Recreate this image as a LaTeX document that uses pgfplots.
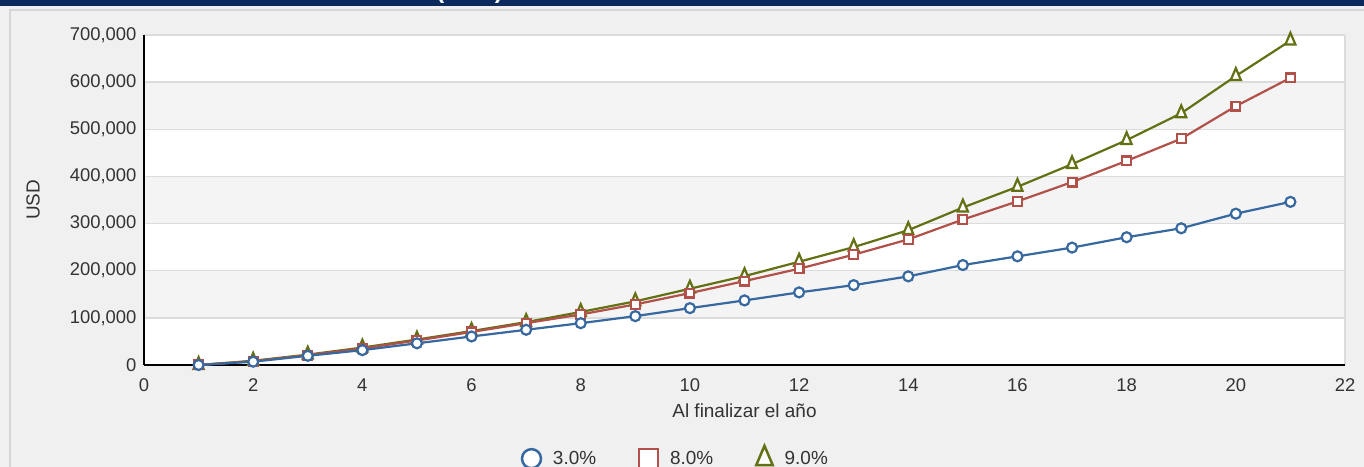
\documentclass[border=0pt]{standalone}
\usepackage{pgfplots}
\pgfplotsset{compat=1.18}
\usepackage{fontspec}
\setmainfont{Liberation Sans}
\definecolor{pagebg}{RGB}{240,240,240}
\definecolor{navy}{RGB}{10,42,94}
\definecolor{framegray}{RGB}{214,214,214}
\definecolor{gridgray}{RGB}{220,220,220}
\definecolor{bandgray}{RGB}{244,244,244}
\definecolor{textgray}{RGB}{51,51,51}
\definecolor{cblue}{RGB}{55,104,160}
\definecolor{cred}{RGB}{178,80,74}
\definecolor{cgreen}{RGB}{100,112,20}
\begin{document}
\begin{tikzpicture}[x=1bp,y=1bp]
\useasboundingbox (0,0) rectangle (1364,467);
\fill[pagebg] (0,0) rectangle (1364,467);
\fill[navy] (0,461) rectangle (1364,467);
\draw[framegray, line width=2bp] (10,0) -- (10,457) -- (1364,457);
\fill[white] (144,102) rectangle (1345,432);
\foreach \i in {1,3,5} {\fill[bandgray] (144,{102+\i*330/7}) rectangle (1345,{102+(\i+1)*330/7});}
\draw[gridgray, line width=2bp] (1345,102) -- (1345,432);
\node[white, font=\bfseries\fontsize{24}{28}\selectfont, anchor=base east, inner sep=0pt] at (503,468) {(USD)};
\begin{axis}[
  at={(144bp,102bp)}, anchor=south west,
  scale only axis, width=1201bp, height=330bp,
  xmin=0, xmax=22, ymin=0, ymax=700000,
  xtick={0,2,...,22}, ytick={0,100000,...,700000},
  xticklabels={0,2,4,6,8,10,12,14,16,18,20,22},
  yticklabels={0,{100,000},{200,000},{300,000},{400,000},{500,000},{600,000},{700,000}},
  scaled y ticks=false,
  axis lines=left, axis line style={-, black, line width=2bp},
  major tick length=0pt,
  ymajorgrids, grid style={gridgray, line width=1.5bp},
  tick label style={font=\fontsize{18.5}{22}\selectfont, text=textgray},
  label style={font=\fontsize{19}{22}\selectfont, text=textgray},
  xticklabel style={yshift=-10bp},
  yticklabel style={xshift=-4bp},
  xlabel={Al finalizar el año}, ylabel={USD},
  xlabel style={at={(axis description cs:0.5,-0.139)}, anchor=center},
  ylabel style={at={(axis description cs:-0.0924,0.5)}, anchor=center},
  clip=false,
  reverse legend,
  legend columns=3,
  legend style={at={(0.4429,-0.2788)}, anchor=center, draw=none, fill=none,
    font=\fontsize{19}{22}\selectfont, text=textgray,
    /tikz/every odd column/.append style={column sep=10bp},
    /tikz/every even column/.append style={column sep=41bp}},
  legend image code/.code={\draw[#1, mark size=9.5bp, line width=2.5bp] plot coordinates {(0bp,0bp)};},
]
\addplot[color=cgreen, line width=2.2bp, mark=triangle*, mark size=5.8bp, mark options={fill=white, solid, yscale=1.35}] coordinates {
(1,0) (2,9000) (3,22000) (4,37000) (5,54000) (6,72000) (7,91000) (8,112500) (9,135000) (10,161800) (11,188500) (12,219000) (13,250000) (14,286000) (15,334000) (16,378000) (17,426000) (18,477000) (19,534000) (20,613000) (21,688000)};
\addlegendentry{9.0\%}
\addplot[color=cred, line width=2.2bp, mark=square*, mark size=4.4bp, mark options={fill=white, solid}] coordinates {
(1,0) (2,8000) (3,21000) (4,35000) (5,52000) (6,70000) (7,88700) (8,107200) (9,128500) (10,152500) (11,178000) (12,204200) (13,234000) (14,266400) (15,308500) (16,347000) (17,388000) (18,433000) (19,480000) (20,549000) (21,609000)};
\addlegendentry{8.0\%}
\addplot[color=cblue, line width=2.2bp, mark=*, mark size=5bp, mark options={fill=white, solid}] coordinates {
(1,0) (2,7000) (3,19500) (4,31500) (5,46000) (6,60500) (7,74700) (8,88700) (9,103600) (10,120600) (11,137000) (12,154000) (13,169400) (14,188000) (15,212000) (16,230500) (17,249000) (18,271000) (19,290000) (20,321000) (21,346000)};
\addlegendentry{3.0\%}
\end{axis}
\end{tikzpicture}
\end{document}
